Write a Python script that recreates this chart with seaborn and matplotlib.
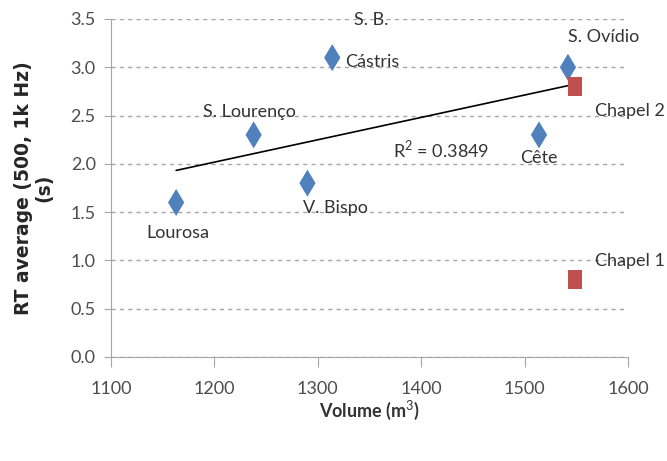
import pandas as pd
import matplotlib.pyplot as plt
import seaborn as sns

# data
names = ['Lourosa', 'S. Lourenço', 'V. Bispo', 'Cástris', 'Cête', 'S. Ovídio', 'Chapel 2', 'Chapel 1']
volume = [1163, 1238, 1290, 1314, 1514, 1542, 1549, 1549]
rt = [1.6, 2.3, 1.8, 3.1, 2.3, 3.0, 2.8, 0.8]
kind = ['church'] * 6 + ['chapel'] * 2
r2_text = 'R$^2$ = 0.3849'

df = pd.DataFrame({'name': names, 'volume': volume, 'rt': rt, 'kind': kind})

sns.set_style('white')
plt.rcParams['font.family'] = ['Lato', 'DejaVu Sans']
plt.rcParams['mathtext.fontset'] = 'custom'
plt.rcParams['mathtext.rm'] = 'Lato'
grey = '#4d4d4d'
txt = '#333333'
fs = 13

fig = plt.figure(figsize=(6.67, 4.61), dpi=100)
ax = fig.add_axes([0.1664, 0.2256, 0.775, 0.7332])

# trend line on churches only
sns.regplot(data=df[df.kind == 'church'], x='volume', y='rt', scatter=False, ci=None,
            truncate=True, color='black', line_kws={'lw': 1.2}, ax=ax)

rect = [(-0.7, -1), (0.7, -1), (0.7, 1), (-0.7, 1), (-0.7, -1)]
sns.scatterplot(data=df, x='volume', y='rt', hue='kind', style='kind',
                palette={'church': '#4F81BD', 'chapel': '#C0504D'},
                markers={'church': 'd', 'chapel': rect}, s=190, linewidth=0,
                legend=False, ax=ax, zorder=3)

# label offsets in points (dx, dy, ha, va)
offs = {
    'Lourosa': (1, -16, 'center', 'top'),
    'S. Lourenço': (-3, 11, 'center', 'bottom'),
    'V. Bispo': (-3, -12, 'left', 'top'),
    'Cástris': (9, -3, 'left', 'center'),
    'Cête': (0, -11, 'center', 'top'),
    'S. Ovídio': (0, 16, 'left', 'bottom'),
    'Chapel 2': (14, -12, 'left', 'top'),
    'Chapel 1': (14, 8, 'left', 'bottom'),
}
for n, xv, yv in zip(names, volume, rt):
    dx, dy, ha, va = offs[n]
    ax.annotate(n, (xv, yv), xytext=(dx, dy), textcoords='offset points',
                ha=ha, va=va, fontsize=fs, color=txt)
    if n == 'Cástris':
        ax.annotate('S. B.', (xv, yv), xytext=(28, 27), textcoords='offset points',
                    ha='center', va='center', fontsize=fs, color=txt)

ax.text(1373, 2.15, r2_text, fontsize=fs, color=txt, ha='left', va='center')

ax.set_xlim(1100, 1600)
ax.set_ylim(0, 3.5)
ax.set_xticks(range(1100, 1601, 100))
ax.set_yticks([i * 0.5 for i in range(8)])
ax.set_yticklabels([f'{i * 0.5:.1f}' for i in range(8)])
ax.yaxis.grid(True, linestyle=(0, (3, 3)), color='#a6a6a6', lw=1)
ax.set_axisbelow(True)
for s in ['top', 'right']:
    ax.spines[s].set_visible(False)
for s in ['left', 'bottom']:
    ax.spines[s].set_color('#a6a6a6')
ax.tick_params(axis='x', bottom=True, direction='out', length=7, color='#a6a6a6',
               pad=10, labelsize=fs, labelcolor=grey)
ax.tick_params(axis='y', left=True, direction='out', length=5, color='#a6a6a6',
               pad=6, labelsize=fs, labelcolor=grey)

ax.set_xlabel('Volume (m$^3$)', fontsize=13, color=txt, fontweight='bold', labelpad=1)
ax.set_ylabel('RT average (500, 1k Hz)\n(s)', fontsize=13.5, fontweight='bold',
              color='#262626', family='DejaVu Sans', labelpad=12, linespacing=1.1)

fig.savefig('out.png', dpi=100)
